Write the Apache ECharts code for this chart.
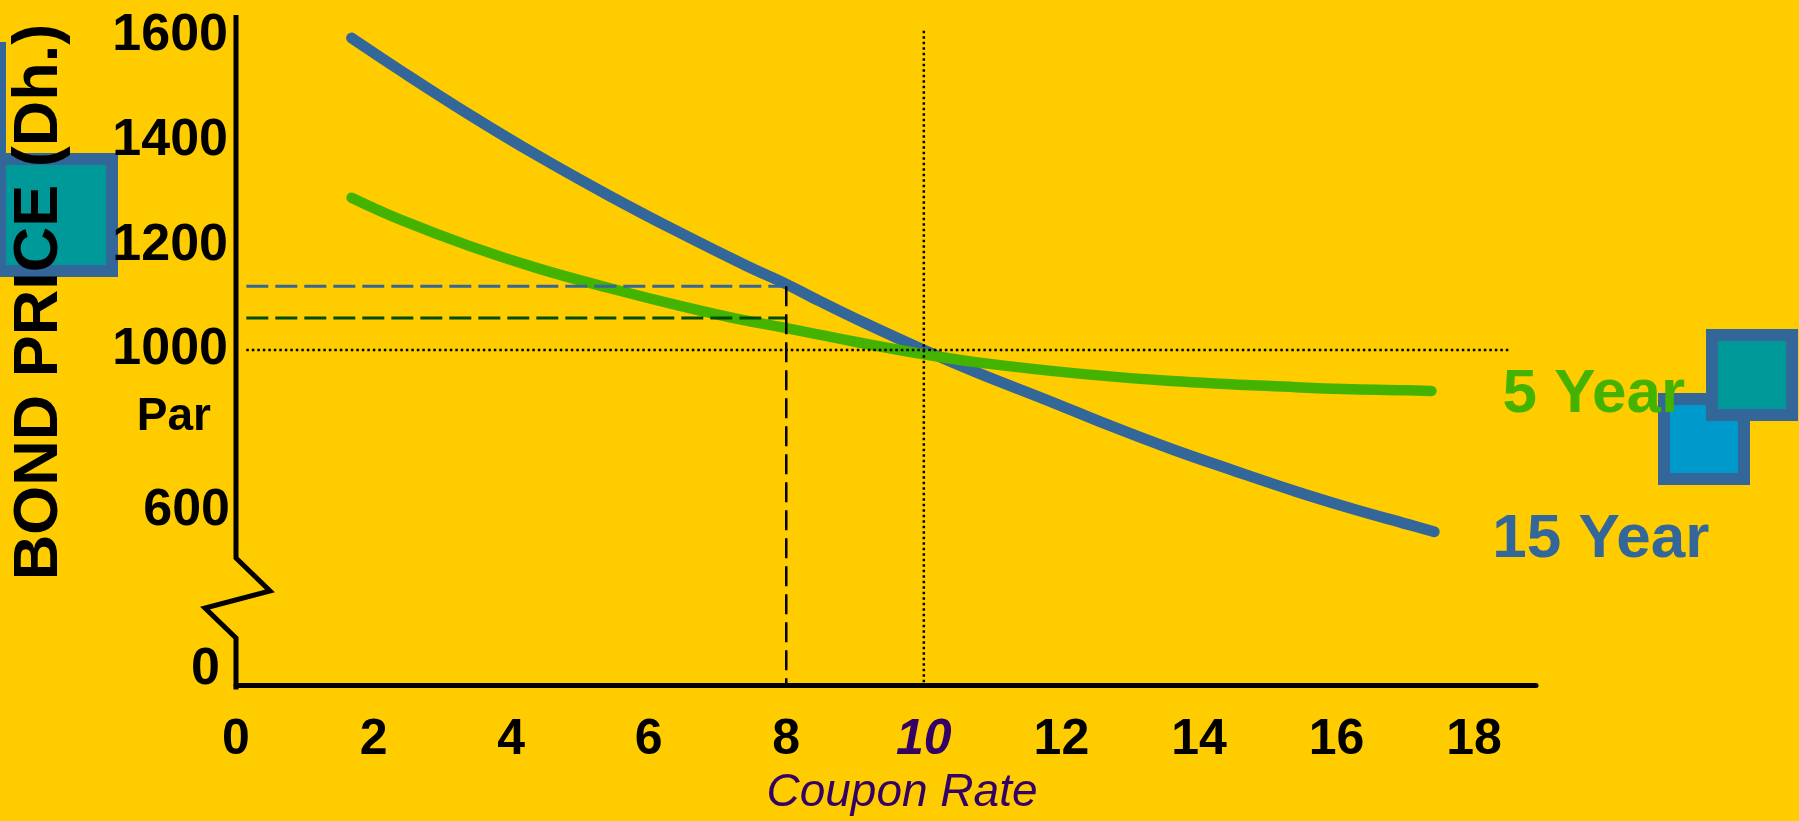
<!DOCTYPE html>
<html>
<head>
<meta charset="utf-8">
<script src="https://cdn.jsdelivr.net/npm/echarts@6/dist/echarts.min.js"></script>
<style>
html,body{margin:0;padding:0;background:#FFCC00;}
#chart{width:1799px;height:821px;}
</style>
</head>
<body>
<div id="chart"></div>
<script>
// ---------- data ----------
const xTickValues = [0, 2, 4, 6, 8, 10, 12, 14, 16, 18];
const yTickValues = [1000, 1200, 1400, 1600];
const yLowerTickValues = [0, 600];
const parLabel = 'Par';
const xAxisName = 'Coupon Rate';
const yAxisName = 'BOND PRICE (Dh.)';
const seriesNames = ['15 Year', '5 Year'];

const coupon15 = [1.68, 2.39, 3.39, 4.39, 5.41, 6.41, 7.42, 8.0, 8.40, 9.15, 10, 10.81, 11.78, 12.70, 13.60, 14.50, 15.41, 16.23, 17.04, 17.42];
const price15  = [1596, 1534, 1450, 1371, 1296, 1227, 1161, 1126, 1099, 1051, 1000, 955, 905, 856, 811, 770, 730, 697, 667, 653];

const coupon5 = [1.68, 2.39, 3.39, 4.39, 5.41, 6.41, 7.42, 8.0, 9.15, 10, 10.81, 12.25, 13.60, 15.41, 16.23, 17.04, 17.38];
const price5  = [1291, 1249, 1199, 1156, 1119, 1086, 1056, 1042, 1012, 992, 976, 955, 941, 929, 925, 923, 922];

const parCoupon = 10;
const parPrice = 1000;
const markCoupon = 8;
const price15AtMark = 1122;
const price5AtMark = 1061;
const guideStartX = [0.15];
const guideEndX = [18.5];
const guideTopY = [1610];

// ---------- layout / style ----------
const FONT = '"Liberation Sans", Arial, Helvetica, sans-serif';
const GRID = { left: 236, right: 263, top: 15, bottom: 134 };
const X_MIN = 0, X_MAX = 18.9;
const Y_MIN = 360, Y_MAX = 1640;
const BLUE = '#336699', GREEN = '#44B300', DKGREEN = '#004C00', PURPLE = '#330066';

const zip = (xs, ys) => xs.map((x, i) => [x, ys[i]]);

const chart = echarts.init(document.getElementById('chart'), null, { renderer: 'canvas' });

const gridBottomPx = 821 - GRID.bottom;
const axisX = GRID.left;

const refLine = (data, color, width, type) => ({
  type: 'line', data, symbol: 'none', silent: true, z: 4,
  lineStyle: { color, width, type, cap: 'butt' }
});

chart.setOption({
  backgroundColor: '#FFCC00',
  animation: false,
  grid: { left: GRID.left, right: GRID.right, top: GRID.top, bottom: GRID.bottom, containLabel: false },
  xAxis: {
    type: 'value', min: X_MIN, max: X_MAX,
    name: xAxisName, nameLocation: 'middle', nameGap: 84,
    nameTextStyle: { fontFamily: FONT, fontSize: 46, fontStyle: 'italic', color: PURPLE, padding: [0, 0, 0, 32] },
    axisLine: { show: true, onZero: false, lineStyle: { color: '#000', width: 5 } },
    axisTick: { show: false },
    splitLine: { show: false },
    axisLabel: {
      customValues: xTickValues, margin: 30,
      formatter: v => (v === parCoupon ? '{h|' + v + '}' : '{n|' + v + '}'),
      rich: {
        n: { fontFamily: FONT, fontSize: 50, fontWeight: 'bold', color: '#000' },
        h: { fontFamily: FONT, fontSize: 50, fontWeight: 'bold', fontStyle: 'italic', color: PURPLE }
      }
    }
  },
  yAxis: [
    {
      type: 'value', min: Y_MIN, max: Y_MAX, position: 'left',
      axisLine: { show: false }, axisTick: { show: false }, splitLine: { show: false },
      axisLabel: {
        customValues: yTickValues, margin: 8,
        formatter: v => (v === parPrice ? '{s| }\n{n|' + v + '}\n{p|' + parLabel + '}' : '{n|' + v + '}'),
        rich: {
          s: { fontSize: 10, lineHeight: 74 },
          n: { fontFamily: FONT, fontSize: 52, fontWeight: 'bold', color: '#000', lineHeight: 60 },
          p: { fontFamily: FONT, fontSize: 46, fontWeight: 'bold', color: '#000', lineHeight: 74, padding: [0, 17, 0, 0] }
        }
      }
    },
    {
      type: 'value', min: -56.25, max: 2463.75, position: 'left', offset: 0,
      axisLine: { show: false }, axisTick: { show: false }, splitLine: { show: false },
      axisLabel: {
        customValues: yLowerTickValues, margin: 6,
        formatter: v => (v === 0 ? '{z|' + v + '}' : '{n|' + v + '}'),
        rich: {
          n: { fontFamily: FONT, fontSize: 52, fontWeight: 'bold', color: '#000' },
          z: { fontFamily: FONT, fontSize: 52, fontWeight: 'bold', color: '#000', padding: [0, 10, 0, 0] }
        }
      }
    }
  ],
  graphic: [
    { type: 'rect', z: 0, shape: { x: -112, y: 48, width: 112, height: 112 },
      style: { fill: '#009999', stroke: BLUE, lineWidth: 12 } },
    { type: 'rect', z: 0, shape: { x: 0, y: 159, width: 112, height: 112 },
      style: { fill: '#009999', stroke: BLUE, lineWidth: 12 } },
    { type: 'rect', z: 0, shape: { x: 1664, y: 399, width: 80, height: 80 },
      style: { fill: '#0099CC', stroke: BLUE, lineWidth: 12 } },
    { type: 'rect', z: 0, shape: { x: 1712, y: 335, width: 80, height: 80 },
      style: { fill: '#009999', stroke: BLUE, lineWidth: 12 } },
    { type: 'text', z: 1, x: 40, y: 302, rotation: Math.PI / 2,
      style: { text: yAxisName, fill: '#000', font: 'bold 63px ' + FONT,
               textAlign: 'center', textVerticalAlign: 'middle', verticalAlign: 'middle' } },
    { type: 'polyline', z: 3,
      shape: { points: [[axisX, GRID.top], [axisX, 558], [axisX + 34, 591], [axisX - 31, 608], [axisX, 638], [axisX, gridBottomPx + 2.5]] },
      style: { stroke: '#000', lineWidth: 5, fill: null, lineJoin: 'miter' } }
  ],
  series: [
    {
      name: seriesNames[0], type: 'line', data: zip(coupon15, price15),
      smooth: 0.4,
      symbol: 'none', z: 2,
      lineStyle: { color: BLUE, width: 11, cap: 'round', join: 'round' },
      endLabel: { show: true, formatter: seriesNames[0], distance: 5, offset: [53, 8],
        color: BLUE, fontFamily: FONT, fontSize: 62, fontWeight: 'bold' }
    },
    {
      name: seriesNames[1], type: 'line', data: zip(coupon5, price5),
      smooth: 0.4,
      symbol: 'none', z: 2,
      lineStyle: { color: GREEN, width: 10.5, cap: 'round', join: 'round' },
      endLabel: { show: true, formatter: seriesNames[1], distance: 5, offset: [66, 4],
        color: GREEN, fontFamily: FONT, fontSize: 62, fontWeight: 'bold' }
    },
    refLine([[guideStartX[0], price15AtMark], [markCoupon, price15AtMark]], BLUE, 3, [22, 7]),
    refLine([[guideStartX[0], price5AtMark], [markCoupon, price5AtMark]], DKGREEN, 3, [22, 7]),
    refLine([[markCoupon, price15AtMark], [markCoupon, Y_MIN]], '#000', 2.5, [20, 8]),
    refLine([[guideStartX[0], parPrice], [guideEndX[0], parPrice]], '#000', 2.5, [2.5, 3]),
    refLine([[parCoupon, guideTopY[0]], [parCoupon, Y_MIN]], '#000', 2.5, [2.5, 3])
  ]
});
</script>
</body>
</html>
